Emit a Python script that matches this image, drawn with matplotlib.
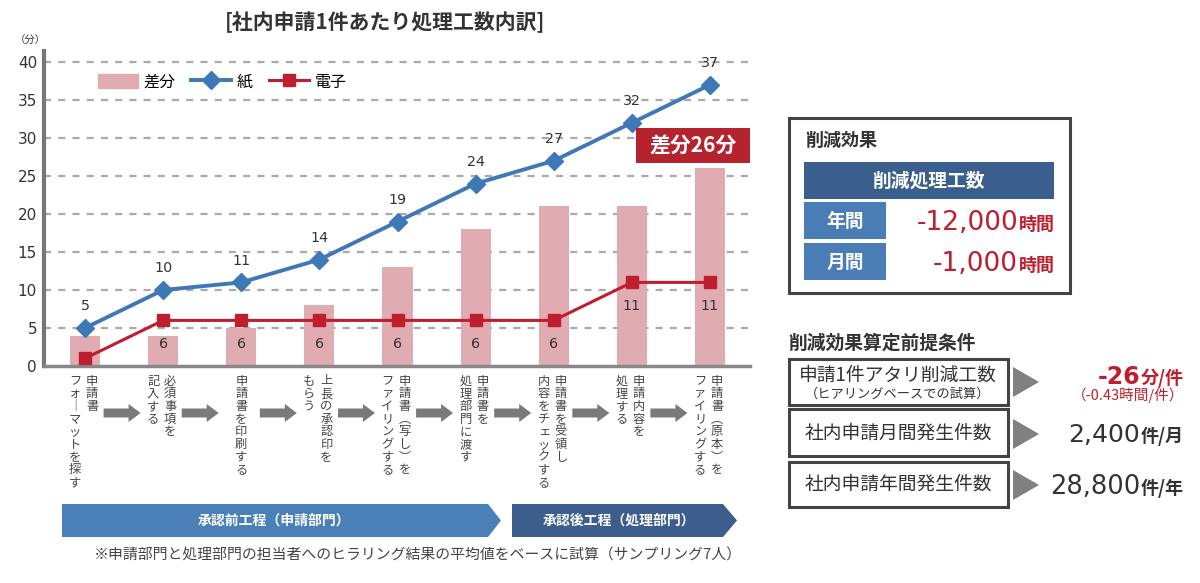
import matplotlib
matplotlib.use("Agg")
import matplotlib.pyplot as plt
from matplotlib.patches import Polygon, Rectangle, Patch
from matplotlib.lines import Line2D

plt.rcParams['font.family'] = ['Noto Sans CJK JP', 'DejaVu Sans']
NUMF = ['DejaVu Sans', 'Noto Sans CJK JP']

# ---------------- data ----------------
steps = ["申請書フォーマットを探す", "必須事項を記入する", "申請書を印刷する",
         "上長の承認印をもらう", "申請書(写し)をファイリングする", "申請書を処理部門に渡す",
         "申請書を受領し内容をチェックする", "申請内容を処理する", "申請書(原本)をファイリングする"]
label_cols = [("申請書", "フォーマットを探す"), ("必須事項を", "記入する"), ("申請書を印刷する", None),
              ("上長の承認印を", "もらう"), ("申請書(写し)を", "ファイリングする"), ("申請書を", "処理部門に渡す"),
              ("申請書を受領し", "内容をチェックする"), ("申請内容を", "処理する"), ("申請書(原本)を", "ファイリングする")]
paper = [5, 10, 11, 14, 19, 24, 27, 32, 37]
electronic = [1, 6, 6, 6, 6, 6, 6, 11, 11]
diff = [4, 4, 5, 8, 13, 18, 21, 21, 26]
electronic_labels = [None, 6, 6, 6, 6, 6, 6, 11, 11]
yticks = [0, 5, 10, 15, 20, 25, 30, 35, 40]

BLUE = "#3f78b6"
RED = "#be1e2d"
PINK = "#e0abb1"
DARK = "#333333"

W, H = 1200, 583
fig = plt.figure(figsize=(12, 5.83), dpi=100)

# chart axes (pixel geometry)
ax_l, ax_r, ax_b, ax_t = 44, 750, 366, 50.6
ax = fig.add_axes([ax_l / W, (H - ax_b) / H, (ax_r - ax_l) / W, (ax_b - ax_t) / H])
n = len(paper)
x = list(range(n))
xmin, xmax = -0.525, 8.512
ax.set_xlim(xmin, xmax)
ax.set_ylim(0, 41.5)

ax.bar(x, diff, width=0.385, color=PINK, zorder=2, label="差分")
ax.plot(x, paper, color=BLUE, lw=2.8, marker="D", ms=9.5, zorder=4, label="紙")
ax.plot(x, electronic, color=RED, lw=2.2, marker="s", ms=8.5, zorder=4, label="電子")

for i, v in enumerate(paper):
    ax.annotate(str(v), (i, v), xytext=(0, 15.5), textcoords="offset points",
                ha="center", va="center", fontsize=10.3, color=DARK, family=NUMF)
for i, v in enumerate(electronic_labels):
    if v is not None:
        ax.annotate(str(v), (i, electronic[i]), xytext=(0, -17), textcoords="offset points",
                    ha="center", va="center", fontsize=10.3, color=DARK, family=NUMF)

ax.set_yticks(yticks)
ax.set_yticklabels([str(t) for t in yticks], fontsize=11, color=DARK, family=NUMF)
ax.set_xticks([])
ax.tick_params(axis="y", length=0, pad=5)
for yv in yticks[1:]:
    ax.axhline(yv, color="#aaaaaa", lw=1.6, linestyle=(0, (3.2, 3.2)), zorder=1)
for s in ["top", "right"]:
    ax.spines[s].set_visible(False)
ax.spines["left"].set_color("#777777")
ax.spines["left"].set_linewidth(3)
ax.spines["bottom"].set_color("#888888")
ax.spines["bottom"].set_linewidth(2.5)
ax.patch.set_visible(False)

handles = [Patch(color=PINK),
           Line2D([], [], color=BLUE, lw=2.8, marker="D", ms=9.5),
           Line2D([], [], color=RED, lw=2.2, marker="s", ms=8.5)]
ax.legend(handles, ["差分", "紙", "電子"], loc="center left", bbox_to_anchor=(90 / W, 1 - 82 / H),
          bbox_transform=fig.transFigure, ncol=3, frameon=False, fontsize=11.5,
          handlelength=2.5, handleheight=1.0, handletextpad=0.35, columnspacing=1.0, borderpad=0)

# overlay in pixel coordinates
ov = fig.add_axes([0, 0, 1, 1], zorder=5)
ov.set_xlim(0, W)
ov.set_ylim(H, 0)
ov.axis("off")
ov.patch.set_visible(False)

def cat_px(i):
    return ax_l + (i - xmin) / (xmax - xmin) * (ax_r - ax_l)

ov.text(385, 22, "[社内申請1件あたり処理工数内訳]", ha="center", va="center",
        fontsize=15, fontweight="bold", color=DARK)
ov.text(30, 41, "（分）", ha="center", va="center", fontsize=7.5, color=DARK)

# vertical labels
vmap = {"ー": "｜", "(": "︵", ")": "︶"}
def vtext(xc, col):
    for k, ch in enumerate(col):
        ov.text(xc, 381 + k * 12.7, vmap.get(ch, ch), ha="center", va="center",
                fontsize=8.8, color="#444444")

for i, (c1, c2) in enumerate(label_cols):
    xc = cat_px(i)
    if c2 is None:
        vtext(xc, c1)
    else:
        vtext(xc + 7, c1)
        vtext(xc - 10, c2)

# gray arrows between steps
for i in range(n - 1):
    mid = (cat_px(i) + cat_px(i + 1)) / 2 - 2
    x0, x1 = mid - 18.5, mid + 18.5
    yc = 413
    pts = [(x0, yc - 4.5), (x1 - 12, yc - 4.5), (x1 - 12, yc - 9), (x1, yc),
           (x1 - 12, yc + 9), (x1 - 12, yc + 4.5), (x0, yc + 4.5)]
    ov.add_patch(Polygon(pts, closed=True, color="#7a7a7a", lw=0))

# chevron banners
ov.add_patch(Polygon([(62, 504), (488, 504), (501, 520.5), (488, 537), (62, 537)],
                     closed=True, color="#4a80b8", lw=0))
ov.add_patch(Polygon([(512, 504), (723, 504), (737, 520.5), (723, 537), (512, 537)],
                     closed=True, color="#3b5e8c", lw=0))
ov.text(274, 520.5, "承認前工程（申請部門）", ha="center", va="center", fontsize=10,
        fontweight="bold", color="white")
ov.text(619, 520.5, "承認後工程（処理部門）", ha="center", va="center", fontsize=10,
        fontweight="bold", color="white")
ov.text(418, 556, "※申請部門と処理部門の担当者へのヒラリング結果の平均値をベースに試算（サンプリング7人）",
        ha="center", va="center", fontsize=10.7, color="#444444")

# red callout
ov.add_patch(Rectangle((636, 128), 114, 35, color="#b5232e", lw=0))
ov.text(693, 146, "差分26分", ha="center", va="center", fontsize=15, fontweight="bold", color="white")

# ---------------- right panel ----------------
renderer = fig.canvas.get_renderer()

def mixed_right(xr, y, parts):
    cur = xr
    for txt, size, weight, color, fam in reversed(parts):
        t = ov.text(cur, y, txt, ha="right", va="baseline", fontsize=size,
                    fontweight=weight, color=color, family=fam)
        bb = t.get_window_extent(renderer=renderer)
        cur -= bb.width + 1

CJK = ['Noto Sans CJK JP', 'DejaVu Sans']
ov.add_patch(Rectangle((789, 118), 281, 175, fill=False, ec="#444444", lw=2.2))
ov.text(805, 140, "削減効果", ha="left", va="center", fontsize=13, fontweight="bold", color=DARK)
ov.add_patch(Rectangle((804, 162), 250, 37, color="#3a5f8e", lw=0))
ov.text(929, 181, "削減処理工数", ha="center", va="center", fontsize=13.5, fontweight="bold", color="white")
ov.add_patch(Rectangle((804, 202), 82, 37, color="#4a7db5", lw=0))
ov.add_patch(Rectangle((804, 243), 82, 37, color="#4a7db5", lw=0))
ov.text(845, 221, "年間", ha="center", va="center", fontsize=13.5, fontweight="bold", color="white")
ov.text(845, 262, "月間", ha="center", va="center", fontsize=13.5, fontweight="bold", color="white")
mixed_right(1055, 230, [("-12,000", 19, "normal", RED, NUMF), ("時間", 13, "bold", RED, CJK)])
mixed_right(1055, 271, [("-1,000", 19, "normal", RED, NUMF), ("時間", 13, "bold", RED, CJK)])

ov.text(788, 343, "削減効果算定前提条件", ha="left", va="center", fontsize=13.5, fontweight="bold", color=DARK)
boxes = [(359, 405), (409, 456), (462, 507)]
for (y0, y1) in boxes:
    ov.add_patch(Rectangle((789, y0), 219, y1 - y0, fill=False, ec="#444444", lw=2.2))
ov.text(898, 375, "申請1件アタリ削減工数", ha="center", va="center", fontsize=13.5, color=DARK)
ov.text(898, 394, "（ヒアリングベースでの試算）", ha="center", va="center", fontsize=9.5, color=DARK)
ov.text(898, 433, "社内申請月間発生件数", ha="center", va="center", fontsize=13.5, color=DARK)
ov.text(898, 484, "社内申請年間発生件数", ha="center", va="center", fontsize=13.5, color=DARK)
for yc in [382, 434, 485]:
    ov.add_patch(Polygon([(1013, yc - 15), (1039, yc), (1013, yc + 15)], closed=True,
                         color="#808080", lw=0))
mixed_right(1184, 384, [("-26", 17, "bold", RED, NUMF), ("分/件", 13, "bold", RED, CJK)])
ov.text(1184, 395, "（-0.43時間/件）", ha="right", va="center", fontsize=10.5, color=RED,
        family=CJK)
mixed_right(1184, 442, [("2,400", 18, "normal", DARK, NUMF), ("件/月", 13, "bold", DARK, CJK)])
mixed_right(1184, 494, [("28,800", 18.5, "normal", DARK, NUMF), ("件/年", 13, "bold", DARK, CJK)])

fig.savefig("out.png", dpi=100)
